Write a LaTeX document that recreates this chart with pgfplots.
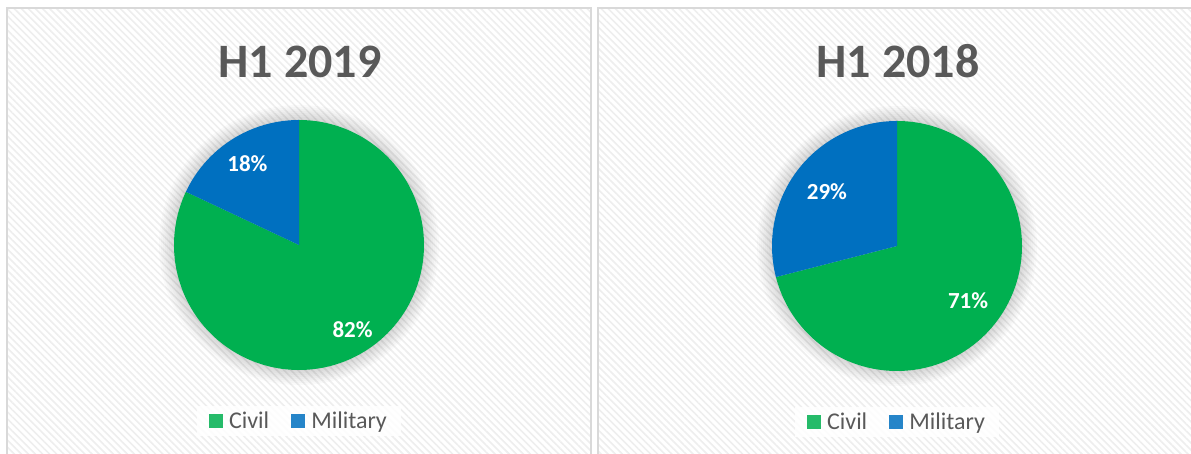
\documentclass[border=0pt]{standalone}
\usepackage{pgfplots}
\pgfplotsset{compat=1.18}
\usepackage{pgfplotstable}
\usepackage{fontspec}
\setmainfont{Carlito}
\usetikzlibrary{patterns.meta}
\definecolor{civil}{HTML}{00B050}
\definecolor{military}{HTML}{0070C0}
\definecolor{txt}{HTML}{595959}
\definecolor{frame}{HTML}{D9D9D9}
\definecolor{hatch}{HTML}{EEEEEE}

\pgfplotstableread{
panel civil military
2019 82 18
2018 71 29
}\pietable

\pgfplotsset{
  pieaxis/.style={
    anchor=center, width=250pt, height=250pt, scale only axis,
    hide axis, xmin=-1, xmax=1, ymin=-1, ymax=1, clip=false,
    legend columns=2,
    legend style={at={(0.5,-0.204)}, anchor=center, draw=none,
      fill=white, fill opacity=0.85, text opacity=1,
      font=\fontsize{24}{27}\selectfont, text=txt,
      inner xsep=12pt, inner ysep=4pt,
      /tikz/every odd column/.append style={column sep=4pt},
      /tikz/every even column/.append style={column sep=20pt}},
    legend image code/.code={\fill[##1] (0pt,-7pt) rectangle (14pt,7pt);},
  },
}

\newcommand{\drawpie}[5]{% #1 row, #2 cx, #3 cy, #4 civil label r, #5 military label r
  \pgfplotstablegetelem{#1}{civil}\of\pietable \edef\civ{\pgfplotsretval}
  \pgfplotstablegetelem{#1}{military}\of\pietable \edef\mil{\pgfplotsretval}
  \pgfmathsetmacro{\split}{90+3.6*\mil}
  \pgfmathsetmacro{\midmil}{(90+\split)/2}
  \pgfmathsetmacro{\midciv}{(\split+450)/2}
  \begin{axis}[pieaxis, at={(#2pt,#3pt)}]
    \addplot[fill=civil, draw=none, data cs=polar, domain=\split:450, samples=180]
      ({x},{1}) -- (axis cs:0,0) -- cycle;
    \addlegendentry{Civil}
    \addplot[fill=military, draw=none, data cs=polar, domain=90:\split, samples=90]
      ({x},{1}) -- (axis cs:0,0) -- cycle;
    \addlegendentry{Military}
    \node[text=white, font=\bfseries\fontsize{23}{26}\selectfont]
      at (axis cs:{#4*cos(\midciv)},{#4*sin(\midciv)}) {\civ\%};
    \node[text=white, font=\bfseries\fontsize{23}{26}\selectfont]
      at (axis cs:{#5*cos(\midmil)},{#5*sin(\midmil)}) {\mil\%};
  \end{axis}
}

\begin{document}
\begin{tikzpicture}[x=1pt,y=1pt]
\useasboundingbox (0,0) rectangle (1191,454);
% panels
\foreach \xa/\xb in {7/591, 598/1200}{
  \fill[white] (\xa,-10) rectangle (\xb,446);
  \fill[pattern={Lines[angle=-45, distance=5pt, line width=1.6pt]}, pattern color=hatch]
    (\xa,-10) rectangle (\xb,446);
  \draw[frame, line width=2pt] (\xa,-10) rectangle (\xb,446);
}
% soft shadows
\foreach \cx/\cy in {299/209, 897/208}{
  \foreach \r in {126,128,...,140}{
    \fill[black, opacity=0.02] (\cx,\cy) circle (\r pt);
  }
}
% titles
\node[anchor=base, text=txt, font=\bfseries\fontsize{48}{52}\selectfont] at (300,376) {H1 2019};
\node[anchor=base, text=txt, font=\bfseries\fontsize{48}{52}\selectfont] at (898,376) {H1 2018};
\drawpie{0}{299}{209}{0.80}{0.77}
\drawpie{1}{897}{208}{0.72}{0.71}
\end{tikzpicture}
\end{document}
